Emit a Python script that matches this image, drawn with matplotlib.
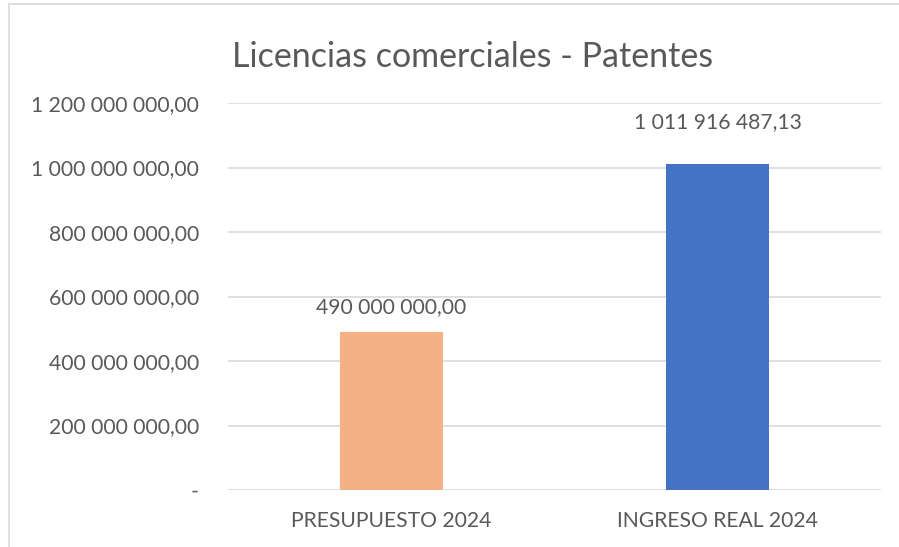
import matplotlib
matplotlib.use("Agg")
import matplotlib.pyplot as plt
from matplotlib.patches import Rectangle

categories = ["PRESUPUESTO 2024", "INGRESO REAL 2024"]
values = [490000000.00, 1011916487.13]
colors = ["#F4B183", "#4472C4"]
yticks = [0, 200e6, 400e6, 600e6, 800e6, 1000e6, 1200e6]
title = "Licencias comerciales - Patentes"
label_offsets_pt = [11, 22.5]

def fmt(v):
    if v == 0:
        return "-"
    s = f"{v:,.2f}"
    ip, dp = s.split(".")
    return ip.replace(",", " ") + "," + dp

plt.rcParams['font.family'] = ['Lato', 'DejaVu Sans']
txt = "#595959"
fs = 15.2
fig = plt.figure(figsize=(8.99, 5.47), dpi=100)
fig.patches.append(Rectangle((8.5/899, -0.1), 1.2, 1.1 - 4.5/547, transform=fig.transFigure,
                             fill=False, edgecolor="#D9D9D9", linewidth=1.2))
ax = fig.add_axes([228/899, 1-490/547, (881-228)/899, (490-103)/547])
x = list(range(len(categories)))
ax.bar(x, values, width=0.315, color=colors, zorder=3)
ax.set_xlim(-0.5, 1.5)
ax.set_ylim(0, 1.2e9)
ax.set_yticks(yticks)
ax.set_yticklabels([fmt(v) for v in yticks])
ax.set_xticks(x)
ax.set_xticklabels(categories)
ax.grid(axis="y", color="#D9D9D9", linewidth=1.2, zorder=0)
for s in ax.spines.values():
    s.set_visible(False)
ax.tick_params(axis="y", length=0, pad=21, labelsize=fs, labelcolor=txt)
ax.tick_params(axis="x", length=0, pad=15, labelsize=fs, labelcolor=txt)
for xi, v, off in zip(x, values, label_offsets_pt):
    ax.annotate(fmt(v), (xi, v), xytext=(0, off), textcoords="offset points",
                ha="center", va="bottom", fontsize=fs, color=txt)
fig.text((232+713)/2/899, 1-57/547, title, ha="center", va="center", fontsize=24.5, color=txt)
fig.savefig("out.png", dpi=100)
